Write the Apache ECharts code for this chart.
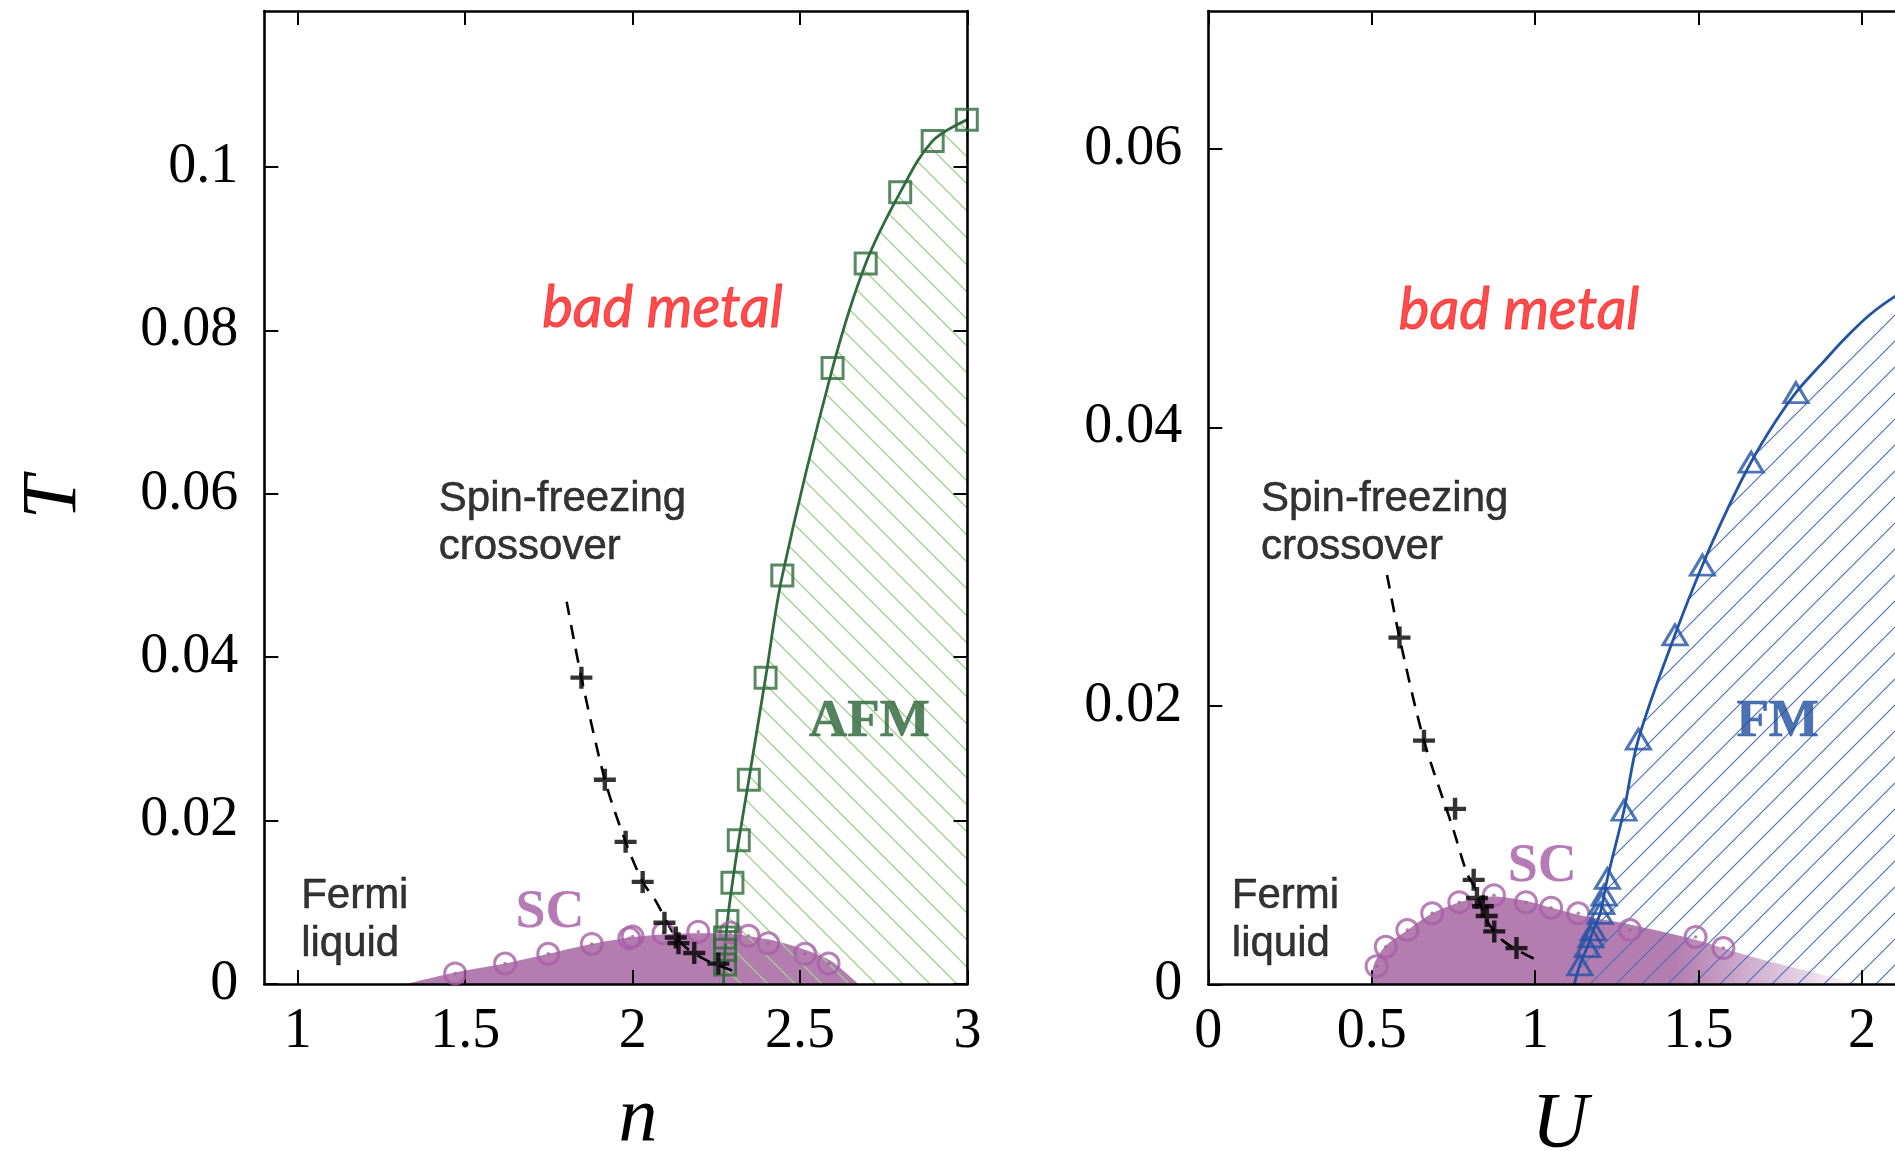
<!DOCTYPE html>
<html>
<head>
<meta charset="utf-8">
<script src="https://cdn.jsdelivr.net/npm/echarts@6/dist/echarts.min.js"></script>
<style>
  html, body { margin: 0; padding: 0; background: #ffffff; }
  #chart { width: 1895px; height: 1151px; }
</style>
</head>
<body>
<div id="chart"></div>
<script>
// ---------- panel (a): temperature T versus filling n ----------
const nTicks = [1, 1.5, 2, 2.5, 3];
const tTicksA = [0, 0.02, 0.04, 0.06, 0.08, 0.1];

// antiferromagnetic transition (squares) and its fitted boundary
const afmPoints = [
  [2.998, 0.1058], [2.896, 0.1032], [2.799, 0.0969], [2.696, 0.0882], [2.597, 0.0754],
  [2.447, 0.0500], [2.397, 0.0375], [2.347, 0.0250], [2.317, 0.0176], [2.298, 0.0124],
  [2.283, 0.0077], [2.276, 0.0057], [2.276, 0.0042], [2.276, 0.0024]
];
const afmBoundary = [
  [2.271, 0], [2.276, 0.0042], [2.283, 0.0077], [2.298, 0.0124], [2.317, 0.0176],
  [2.347, 0.0250], [2.397, 0.0375], [2.447, 0.0500], [2.597, 0.0754], [2.696, 0.0882],
  [2.799, 0.0969], [2.896, 0.1032], [3.0, 0.1058]
];
// spin-freezing crossover (crosses) and the dashed guide through them
const spinA = [
  [1.847, 0.0375], [1.917, 0.0250], [1.979, 0.0174], [2.030, 0.0125], [2.095, 0.0075],
  [2.129, 0.0057], [2.137, 0.0050], [2.184, 0.0038], [2.256, 0.0025]
];
const spinLineA = [
  [1.803, 0.0468], [1.847, 0.0375], [1.917, 0.0250], [1.979, 0.0174], [2.030, 0.0125],
  [2.067, 0.0103], [2.122, 0.0062], [2.161, 0.0044], [2.221, 0.0029], [2.320, 0.0013]
];
// superconducting Tc (circles) and the shaded dome
const scA = [
  [1.470, 0.0013], [1.619, 0.0025], [1.748, 0.0037], [1.878, 0.0049], [1.990, 0.0056],
  [2.000, 0.0058], [2.092, 0.0062], [2.196, 0.0064], [2.292, 0.0063], [2.346, 0.0059],
  [2.405, 0.0050], [2.515, 0.0037], [2.585, 0.0025]
];
const scDomeA = [
  [1.325, 0], [1.470, 0.0014], [1.619, 0.0025], [1.748, 0.0037], [1.877, 0.0049],
  [1.992, 0.0057], [2.102, 0.0061], [2.201, 0.0062], [2.301, 0.0061], [2.400, 0.0055],
  [2.500, 0.0044], [2.589, 0.0029], [2.639, 0.0013], [2.674, 0]
];

// ---------- panel (b): temperature T versus interaction U ----------
const uTicks = [0, 0.5, 1, 1.5, 2];
const tTicksB = [0, 0.02, 0.04, 0.06];

const fmPoints = [
  [1.798, 0.0425], [1.661, 0.0375], [1.512, 0.0301], [1.428, 0.0251], [1.316, 0.0176],
  [1.272, 0.0125], [1.221, 0.0076], [1.211, 0.0064], [1.204, 0.0058], [1.199, 0.0051],
  [1.178, 0.0039], [1.171, 0.0034], [1.160, 0.0027], [1.137, 0.0014]
];
const fmBoundary = [
  [1.120, 0], [1.137, 0.0014], [1.160, 0.0027], [1.178, 0.0039], [1.199, 0.0051],
  [1.221, 0.0076], [1.272, 0.0125], [1.316, 0.0176], [1.428, 0.0251], [1.512, 0.0301],
  [1.590, 0.0342], [1.663, 0.0376], [1.735, 0.0404], [1.798, 0.0425], [1.882, 0.0447],
  [1.953, 0.0465], [2.025, 0.0481], [2.101, 0.0494], [2.200, 0.0508]
];
const spinB = [
  [0.585, 0.0249], [0.660, 0.0175], [0.755, 0.0126], [0.812, 0.0075], [0.822, 0.0062],
  [0.840, 0.0056], [0.852, 0.0049], [0.875, 0.0038], [0.943, 0.0026]
];
const spinLineB = [
  [0.547, 0.0294], [0.585, 0.0249], [0.660, 0.0175], [0.750, 0.0111], [0.791, 0.0080],
  [0.816, 0.0069], [0.852, 0.0046], [0.903, 0.0031], [1.000, 0.0018]
];
const scB = [
  [0.515, 0.0013], [0.543, 0.0027], [0.609, 0.0039], [0.685, 0.0051], [0.768, 0.0059],
  [0.874, 0.0064], [0.972, 0.0059], [1.049, 0.0055], [1.132, 0.0051], [1.290, 0.0039],
  [1.491, 0.0034], [1.576, 0.0026]
];
const scDomeB = [
  [0.500, 0], [0.505, 0.0013], [0.540, 0.0027], [0.610, 0.0039], [0.685, 0.0051],
  [0.770, 0.0059], [0.870, 0.0063], [0.970, 0.0060], [1.050, 0.0055], [1.150, 0.0049],
  [1.290, 0.0043], [1.490, 0.0032], [1.660, 0.0020], [1.860, 0.0008], [2.000, 0]
];

// region labels, anchored in data coordinates
const notesA = [
  { text: 'bad metal', at: [2.089, 0.0827], kind: 'metal' },
  { text: 'Spin-freezing\ncrossover', at: [1.421, 0.0564], kind: 'plain' },
  { text: 'Fermi\nliquid', at: [1.010, 0.0078], kind: 'plain' },
  { text: 'SC', at: [1.753, 0.0087], kind: 'sc' },
  { text: 'AFM', at: [2.707, 0.0320], kind: 'afm' }
];
const notesB = [
  { text: 'bad metal', at: [0.951, 0.0484], kind: 'metal' },
  { text: 'Spin-freezing\ncrossover', at: [0.161, 0.0331], kind: 'plain' },
  { text: 'Fermi\nliquid', at: [0.072, 0.0046], kind: 'plain' },
  { text: 'SC', at: [1.022, 0.0084], kind: 'sc' },
  { text: 'FM', at: [1.742, 0.0188], kind: 'fm' }
];

// ---------- styling ----------
const PURPLE_FILL = '#b37db0';
const PURPLE_MARK = '#a85fa8';
const GREEN = '#2f6b3c';
const GREEN_HATCH = '#9fd08c';
const BLUE = '#2353a5';
const BLUE_HATCH = '#4d72ba';
const SERIF = '"Liberation Serif", "DejaVu Serif", serif';
const SANS = '"Liberation Sans", Arial, Helvetica, sans-serif';

function hatchPattern(color, step, slope, width) {
  const c = document.createElement('canvas');
  c.width = step; c.height = step;
  const g = c.getContext('2d');
  g.strokeStyle = color;
  g.lineWidth = width;
  g.beginPath();
  for (const k of [-1, 0, 1]) {
    if (slope === 'down') {
      g.moveTo(-step, -step + k * step);
      g.lineTo(2 * step, 2 * step + k * step);
    } else {
      g.moveTo(-step, 2 * step + k * step);
      g.lineTo(2 * step, -step + k * step);
    }
  }
  g.stroke();
  return { image: c, repeat: 'repeat' };
}

const noteStyles = {
  metal: { fontFamily: 'Lato, "Open Sans", sans-serif', fontStyle: 'italic', fontSize: 58, color: '#ff1f1f',
           textBorderColor: '#ff1f1f', textBorderWidth: 1 },
  plain: { fontFamily: SANS, fontSize: 42, lineHeight: 48, color: '#000', align: 'left',
           textBorderColor: '#000', textBorderWidth: 0.5 },
  sc:    { fontFamily: SERIF, fontWeight: 'bold', fontSize: 54, color: '#a45aa4' },
  afm:   { fontFamily: SERIF, fontWeight: 'bold', fontSize: 53, color: '#2a6436',
           textBorderColor: '#2a6436', textBorderWidth: 0.6 },
  fm:    { fontFamily: SERIF, fontWeight: 'bold', fontSize: 53, color: '#214fa0',
           textBorderColor: '#214fa0', textBorderWidth: 0.6 }
};

const CROSS = 'path://M-2,-10L2,-10L2,-2L10,-2L10,2L2,2L2,10L-2,10L-2,2L-10,2L-10,-2L-2,-2Z';

function frameAxes(kind, grid, min, max, ticks, opts) {
  const isX = kind === 'x';
  const base = {
    gridIndex: grid, type: 'value', min: min, max: max, z: 3,
    splitLine: { show: false },
    axisLine: { show: true, onZero: false, lineStyle: { color: '#000', width: 2.6 } },
    axisTick: { show: true, inside: true, length: 14, customValues: ticks, lineStyle: { color: '#000', width: 2 } }
  };
  const main = Object.assign({}, base, {
    position: isX ? 'bottom' : 'left',
    axisLabel: {
      show: true, customValues: ticks, margin: isX ? 20 : 26,
      fontFamily: SERIF, fontSize: 56, color: '#000'
    }
  }, opts || {});
  const mirror = Object.assign({}, base, {
    position: isX ? 'top' : 'right',
    axisLabel: { show: false }
  });
  return [main, mirror];
}

const nameStyle = { fontFamily: SERIF, fontStyle: 'italic', fontSize: 78, lineHeight: 78, color: '#000' };

const xAxes = [
  ...frameAxes('x', 0, 0.9, 3, nTicks, {
    name: 'n', nameLocation: 'middle', nameGap: 97, nameMoveOverlap: false,
    nameTextStyle: Object.assign({}, nameStyle, { padding: [0, 0, 0, 44] })
  }),
  ...frameAxes('x', 1, 0, 2.2, uTicks, {
    name: 'U', nameLocation: 'middle', nameGap: 102, nameMoveOverlap: false,
    nameTextStyle: Object.assign({}, nameStyle, { padding: [0, 16, 0, 0] })
  })
];
const yAxes = [
  ...frameAxes('y', 0, 0, 0.1191, tTicksA, {
    name: 'T', nameLocation: 'middle', nameGap: 171, nameRotate: 90, nameMoveOverlap: false,
    nameTextStyle: nameStyle
  }),
  ...frameAxes('y', 1, 0, 0.0699, tTicksB)
];

function panelSeries(p, d) {
  const xi = p * 2, yi = p * 2;
  const common = { xAxisIndex: xi, yAxisIndex: yi, silent: true };
  const list = [];
  // superconducting dome
  list.push(Object.assign({
    type: 'line', z: 1, data: d.dome, smooth: 0.3, symbol: 'none',
    lineStyle: { width: 0 }, areaStyle: { color: d.domeColor, opacity: 1 }
  }, common));
  // magnetic region, hatched, bounded by its transition line
  list.push(Object.assign({
    type: 'line', z: 2, data: d.boundary, smooth: 0.35, symbol: 'none',
    lineStyle: { color: d.lineColor, width: 2.8 },
    areaStyle: { color: d.hatch, opacity: 1 }
  }, common));
  // dashed spin-freezing guide
  list.push(Object.assign({
    type: 'line', z: 4, data: d.spinLine, smooth: 0.3, symbol: 'none',
    lineStyle: { color: '#000', width: 2.6, type: [14, 10] }
  }, common));
  // Tc circles with centre dots
  list.push(Object.assign({
    type: 'scatter', z: 5, data: d.sc, symbol: 'circle', symbolSize: 21, clip: false,
    itemStyle: { color: 'rgba(0,0,0,0)', borderColor: PURPLE_MARK, borderWidth: 3 }
  }, common));
  list.push(Object.assign({
    type: 'scatter', z: 5, data: d.sc, symbol: 'circle', symbolSize: 3.5, clip: false,
    itemStyle: { color: PURPLE_MARK }
  }, common));
  // magnetic transition markers
  list.push(Object.assign({
    type: 'scatter', z: 6, data: d.mag, symbol: d.magSymbol, symbolSize: d.magSize, clip: false,
    itemStyle: { color: 'rgba(0,0,0,0)', borderColor: d.lineColor, borderWidth: 3 }
  }, common));
  // spin-freezing crosses
  list.push(Object.assign({
    type: 'scatter', z: 7, data: d.spin, symbol: CROSS, symbolSize: 22, clip: false,
    itemStyle: { color: '#000' }
  }, common));
  // region names
  list.push(Object.assign({
    type: 'scatter', symbolSize: 1, clip: false, z: 8,
    itemStyle: { color: 'rgba(0,0,0,0)' },
    data: d.notes.map(o => ({
      value: o.at,
      label: Object.assign({ show: true, position: 'inside', verticalAlign: 'middle', formatter: o.text }, noteStyles[o.kind])
    }))
  }, common));
  return list;
}

const domeFadeB = new echarts.graphic.LinearGradient(0, 0, 1, 0, [
  { offset: 0, color: 'rgba(179,125,176,1)' },
  { offset: 0.62, color: 'rgba(179,125,176,1)' },
  { offset: 0.84, color: 'rgba(179,125,176,0.45)' },
  { offset: 1, color: 'rgba(179,125,176,0)' }
]);

const series = [
  ...panelSeries(0, {
    dome: scDomeA, domeColor: PURPLE_FILL, boundary: afmBoundary, lineColor: GREEN,
    hatch: hatchPattern(GREEN_HATCH, 27, 'down', 1.3), spinLine: spinLineA, sc: scA,
    mag: afmPoints, magSymbol: 'rect', magSize: 21, spin: spinA, notes: notesA
  }),
  ...panelSeries(1, {
    dome: scDomeB, domeColor: domeFadeB, boundary: fmBoundary, lineColor: BLUE,
    hatch: hatchPattern(BLUE_HATCH, 26, 'up', 1.2), spinLine: spinLineB, sc: scB,
    mag: fmPoints, magSymbol: 'triangle', magSize: [24, 20], spin: spinB, notes: notesB
  })
];

const chart = echarts.init(document.getElementById('chart'), null, { renderer: 'canvas' });
chart.setOption({
  backgroundColor: '#ffffff',
  animation: false,
  grid: [
    { left: 264.3, top: 11, width: 703.2, height: 973, outerBoundsMode: 'none', containLabel: false },
    { left: 1208.3, top: 11, width: 719, height: 973.3, outerBoundsMode: 'none', containLabel: false }
  ],
  xAxis: xAxes,
  yAxis: yAxes,
  series: series
});
</script>
</body>
</html>
